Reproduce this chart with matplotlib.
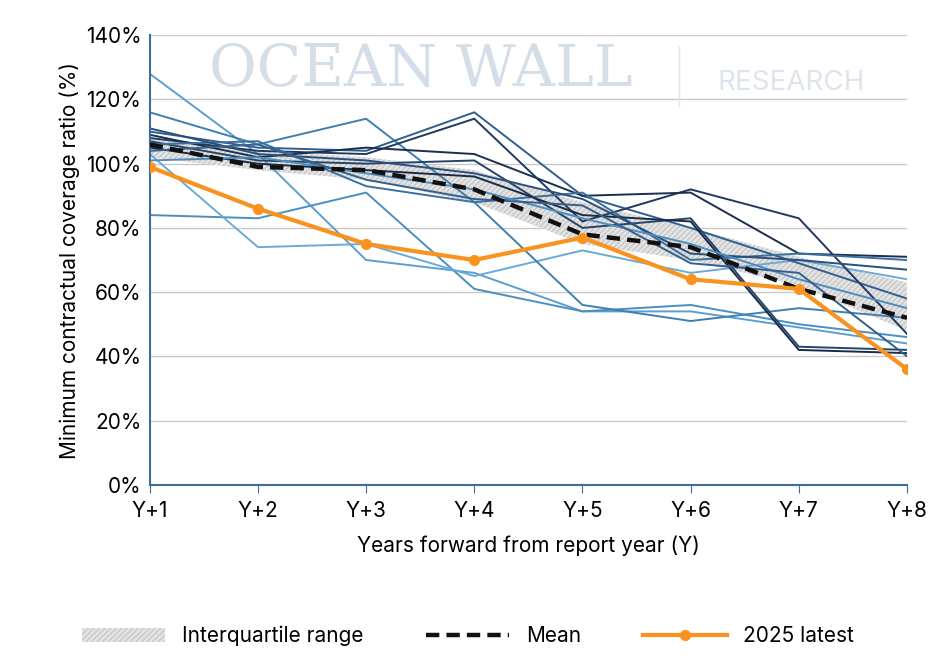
import numpy as np
import matplotlib.pyplot as plt

plt.rcParams['font.family'] = ['Inter', 'DejaVu Sans']

years = ['Y+1', 'Y+2', 'Y+3', 'Y+4', 'Y+5', 'Y+6', 'Y+7', 'Y+8']

# individual report-year vintages (%)
vintages = [
    [128, 103, 70, 66, 54, 54, 49, 44],
    [84, 83, 91, 61, 54, 56, 50, 46],
    [103, 74, 75, 65, 73, 66, 70, 64],
    [116, 106, 114, 88, 56, 51, 55, 52],
    [110, 105, 104, 116, 90, 80, 69, 58],
    [108, 104, 103, 114, 82, 92, 83, 47],
    [109, 102, 105, 103, 90, 91, 72, 71],
    [107, 101, 100, 101, 80, 83, 43, 42],
    [106, 107, 93, 88, 91, 70, 72, 70],
    [105, 100, 98, 96, 84, 82, 42, 41],
    [111, 103, 101, 97, 89, 72, 70, 67],
    [101, 102, 97, 92, 83, 75, 64, 55],
    [104, 106, 95, 89, 87, 69, 66, 40],
]
mean = [106, 99, 98, 92, 78, 74, 61, 52]
latest = [99, 86, 75, 70, 77, 64, 61, 36]
iqr_low = [102, 98, 95, 88, 75, 70, 62, 48]
iqr_high = [108, 104, 102, 98, 88, 80, 71, 63]

colors = ['#5b9fcf', '#4a8fc0', '#6aaad6', '#3f7fb0', '#2f5f8f', '#203a5e',
          '#1c2f4e', '#24446a', '#3a6f9f', '#1a2b48', '#2a4f7a', '#4d8cbf', '#355f8c']

fig = plt.figure(figsize=(9.36, 6.65), dpi=100)
ax = fig.add_axes([0.160, 0.271, 0.809, 0.676])
x = np.arange(len(years))

ax.fill_between(x, iqr_low, iqr_high, facecolor='#e4e4e4', edgecolor='#c8c8c8',
                hatch='//////', linewidth=0, zorder=1, label='Interquartile range')
for v, c in zip(vintages, colors):
    ax.plot(x, v, color=c, lw=1.4, zorder=2)
ax.plot(x, mean, color='#111111', lw=3.2, ls=(0, (3, 1.6)), zorder=3, label='Mean')
ax.plot(x, latest, color='#f7931e', lw=3, marker='o', ms=7, zorder=4, label='2025 latest')

ax.set_xlim(0, 7)
ax.set_ylim(0, 140)
ax.set_yticks(range(0, 141, 20))
ax.set_yticklabels([f'{t}%' for t in range(0, 141, 20)])
ax.set_xticks(x)
ax.set_xticklabels(years)
ax.grid(axis='y', color='#c8c8c8', lw=1)
ax.set_axisbelow(True)
for s in ['top', 'right']:
    ax.spines[s].set_visible(False)
for s in ['left', 'bottom']:
    ax.spines[s].set_color('#3d6e99')
    ax.spines[s].set_linewidth(1.5)
ax.tick_params(axis='both', labelsize=15, color='#3d6e99', length=6, pad=6)
ax.tick_params(axis='y', length=0)
ax.set_ylabel('Minimum contractual coverage ratio (%)', fontsize=15)
ax.set_xlabel('Years forward from report year (Y)', fontsize=15, labelpad=10)

fig.text(0.45, 0.895, 'OCEAN WALL', fontsize=42, family='serif', color='#c9d6e3',
         ha='center', va='center', alpha=0.8, zorder=0)
fig.text(0.845, 0.875, 'RESEARCH', fontsize=20, color='#d5dee8', ha='center',
         va='center', alpha=0.8)
fig.add_artist(plt.Line2D([0.725, 0.725], [0.84, 0.93], color='#dde4ec', lw=1))

fig.legend(loc='lower center', bbox_to_anchor=(0.5, 0.0), ncol=3, frameon=False,
           fontsize=15, handlelength=4, columnspacing=3)
fig.savefig('out.png')
